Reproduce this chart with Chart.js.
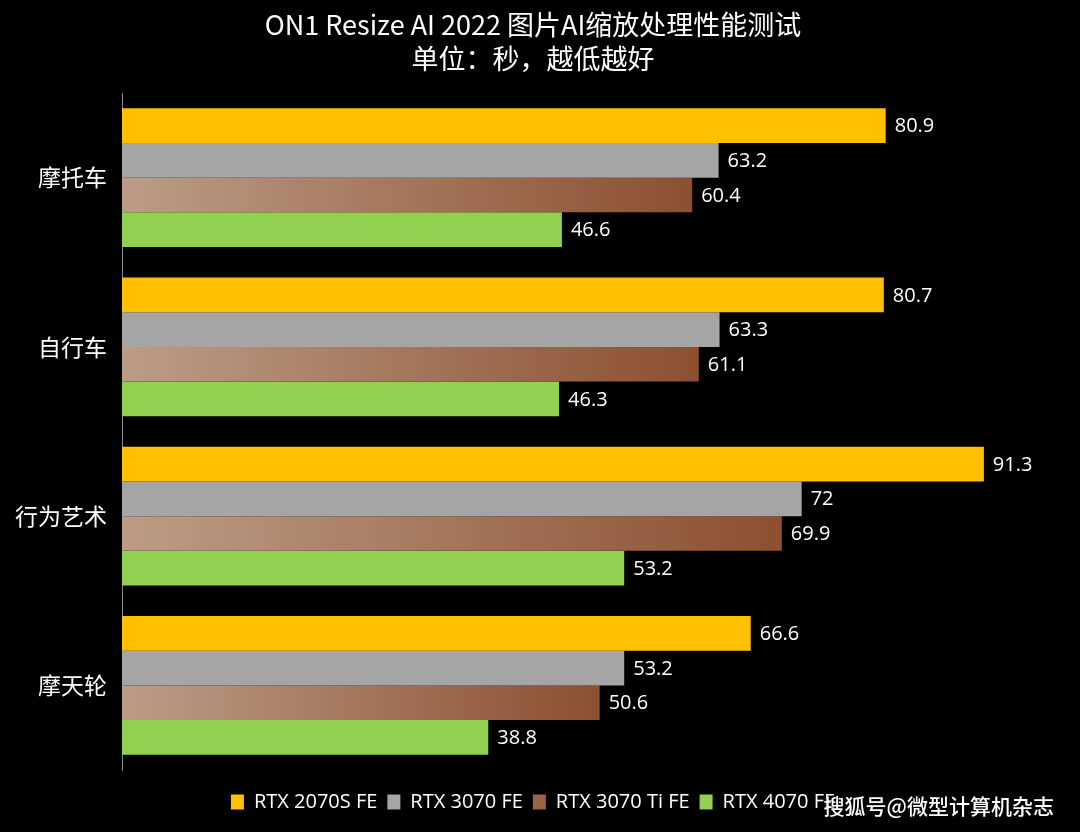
<!DOCTYPE html>
<html>
<head>
<meta charset="utf-8">
<script src="https://cdn.jsdelivr.net/npm/chart.js@4/dist/chart.umd.min.js"></script>
<style>
  html, body { margin: 0; padding: 0; background: #000; }
  #wrap { width: 1080px; height: 832px; }
</style>
</head>
<body>
<div id="wrap"><canvas id="perf-chart" width="1080" height="832"></canvas></div>
<script>
// 数据
var categories = ["摩托车", "自行车", "行为艺术", "摩天轮"];
var seriesNames = ["RTX 2070S FE", "RTX 3070 FE", "RTX 3070 Ti FE", "RTX 4070 FE"];
var rtx2070s = [80.9, 80.7, 91.3, 66.6];
var rtx3070 = [63.2, 63.3, 72, 53.2];
var rtx3070ti = [60.4, 61.1, 69.9, 50.6];
var rtx4070 = [46.6, 46.3, 53.2, 38.8];

var fontCJK = "'Noto Sans CJK SC', 'Noto Sans', sans-serif";
var fontNum = "'Open Sans', 'Noto Sans', sans-serif";

// 3070 Ti 用渐变色，每根柱子单独算
function tiGradient(context) {
    var chart = context.chart;
    var xs = chart.scales.x;
    if (!xs || context.raw == null) return '#a87858';
    var x0 = xs.getPixelForValue(0);
    var x1 = xs.getPixelForValue(context.raw);
    if (!isFinite(x0) || !isFinite(x1) || x1 <= x0) return '#a87858';
    var g = chart.ctx.createLinearGradient(x0, 0, x1, 0);
    g.addColorStop(0, '#bc9c86');
    g.addColorStop(1, '#8c5030');
    return g;
}

// 柱子右边的数值
var valueLabels = {
    id: 'valueLabels',
    afterDatasetsDraw: function (chart) {
        var ctx = chart.ctx;
        ctx.save();
        ctx.fillStyle = '#ffffff';
        ctx.font = '20px ' + fontNum;
        ctx.textAlign = 'left';
        ctx.textBaseline = 'middle';
        chart.data.datasets.forEach(function (ds, i) {
            var meta = chart.getDatasetMeta(i);
            meta.data.forEach(function (bar, j) {
                ctx.fillText(String(ds.data[j]), bar.x + 9, bar.y + 1);
            });
        });
        ctx.restore();
    }
};

// 水印
var watermark = {
    id: 'watermark',
    afterDraw: function (chart) {
        var ctx = chart.ctx;
        ctx.save();
        ctx.font = '500 21px ' + fontCJK;
        ctx.textAlign = 'right';
        ctx.textBaseline = 'middle';
        ctx.shadowColor = 'rgba(0,0,0,0.8)';
        ctx.shadowBlur = 3;
        ctx.fillStyle = '#ffffff';
        ctx.fillText('搜狐号@微型计算机杂志', 1054, 806);
        ctx.restore();
    }
};

var bg = {
    id: 'bg',
    beforeDraw: function (chart) {
        var ctx = chart.ctx;
        ctx.save();
        ctx.fillStyle = '#000000';
        ctx.fillRect(0, 0, chart.width, chart.height);
        ctx.restore();
    }
};

var data = {
    labels: categories,
    datasets: [
        { label: seriesNames[0], data: rtx2070s, backgroundColor: '#ffc000' },
        { label: seriesNames[1], data: rtx3070, backgroundColor: '#a5a5a5' },
        { label: seriesNames[2], data: rtx3070ti, backgroundColor: tiGradient },
        { label: seriesNames[3], data: rtx4070, backgroundColor: '#92d050' }
    ]
};

var options = {
    responsive: false,
    animation: false,
    indexAxis: 'y',
    layout: { padding: { left: 0, right: 14, top: 0, bottom: 10 } },
    datasets: {
        bar: { categoryPercentage: 0.82, barPercentage: 1.0, borderWidth: 0 }
    },
    scales: {
        x: {
            display: false,
            min: 0,
            max: 100
        },
        y: {
            grid: { display: false, drawTicks: false },
            border: { display: true, color: '#8c8c8c', width: 1 },
            ticks: {
                color: '#ffffff',
                padding: 15,
                font: { family: fontCJK, size: 23 }
            }
        }
    },
    plugins: {
        title: {
            display: true,
            text: ['ON1 Resize AI 2022 图片AI缩放处理性能测试', '单位：秒，越低越好'],
            color: '#ffffff',
            font: { family: fontCJK, size: 27, weight: 'normal', lineHeight: 1.26 },
            padding: { top: 8, bottom: 17 }
        },
        legend: {
            display: true,
            position: 'bottom',
            // 空标题只用来把图例往下推一点
            title: { display: true, text: ' ', font: { size: 2, lineHeight: 1 }, padding: { top: 10, bottom: 0 } },
            labels: {
                color: '#ffffff',
                boxWidth: 13,
                boxHeight: 15,
                padding: 10,
                font: { family: fontNum, size: 20 }
            }
        },
        tooltip: { enabled: false }
    }
};

var ctx = document.getElementById('perf-chart').getContext('2d');
var perfChart = new Chart(ctx, {
    type: 'bar',
    data: data,
    options: options,
    plugins: [bg, valueLabels, watermark]
});
</script>
</body>
</html>
